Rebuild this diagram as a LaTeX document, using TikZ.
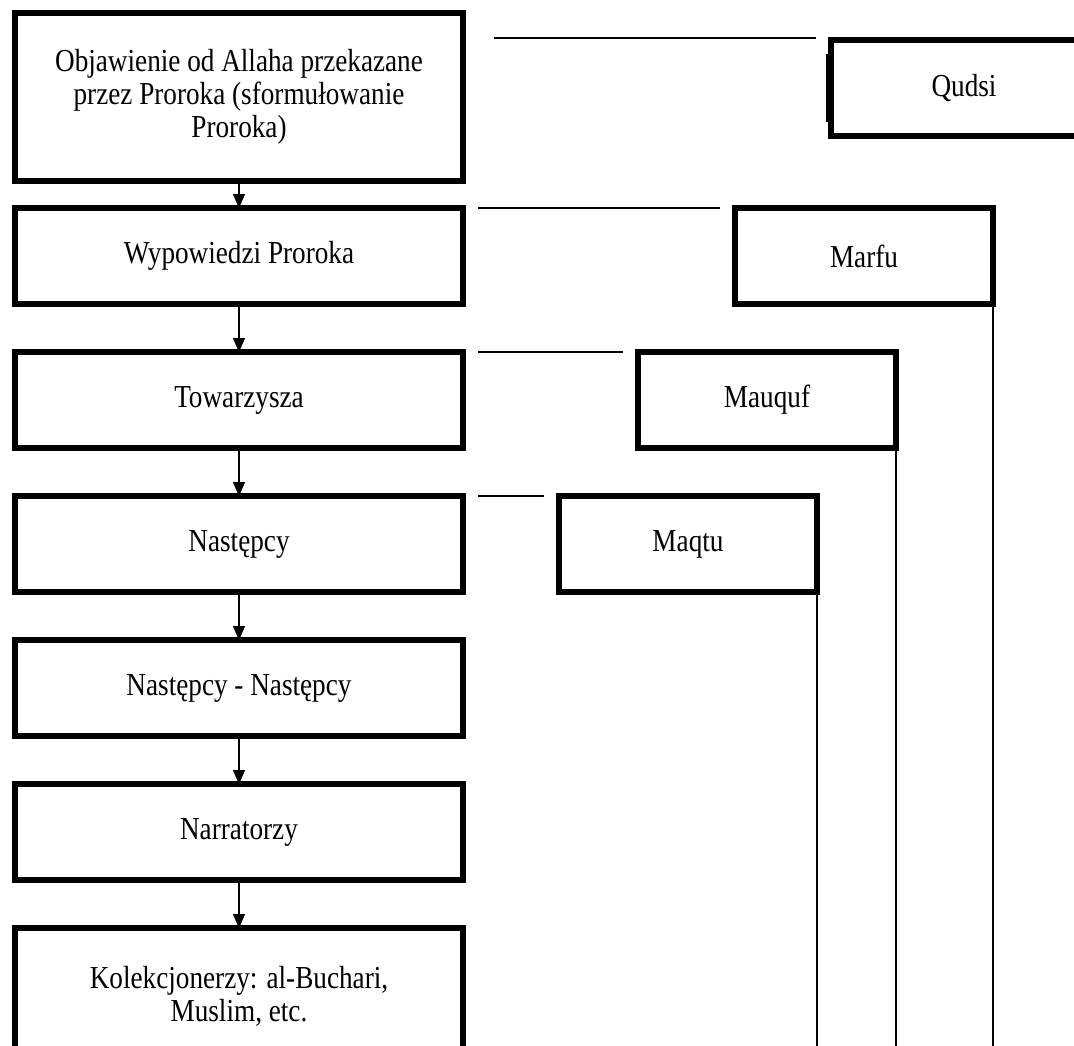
\documentclass[tikz,border=0pt]{standalone}
\usepackage{fontspec}
\setmainfont[FakeStretch=0.85]{Liberation Serif}
\usetikzlibrary{arrows.meta,calc}
\tikzset{
  chainbox/.style={draw, line width=6pt, outer sep=0pt, inner sep=0pt,
    minimum width=448pt, minimum height=96pt, align=center,
    font=\fontsize{32}{33}\selectfont},
  sidebox/.style={chainbox, minimum width=258pt},
  link/.style={line width=1.3pt, -{Triangle[width=12pt,length=14pt]}},
  tie/.style={line width=1.3pt}
}
\begin{document}
\begin{tikzpicture}[x=1pt,y=-1pt]
  \useasboundingbox (0,0) rectangle (1074,1046);
  \clip (0,0) rectangle (1074,1046);
  \coordinate (bottom) at (0,1046);
  % left chain
  \node[chainbox, minimum height=168pt] (obj) at (239,97)
    {Objawienie od Allaha przekazane\\przez Proroka (sformułowanie\\Proroka)};
  \foreach \name/\y/\txt in {wyp/256/Wypowiedzi Proroka, tow/400/Towarzysza,
      nast/544/Następcy, nastn/688/Następcy - Następcy, narr/832/Narratorzy}{
    \node[chainbox] (\name) at (239,\y) {\txt};
  }
  \node[chainbox, minimum height=136pt] (kol) at (239,996)
    {Kolekcjonerzy: al-Buchari,\\Muslim, etc.};
  \foreach \a/\b in {obj/wyp, wyp/tow, tow/nast, nast/nastn, nastn/narr, narr/kol}
    \draw[link] (\a.south) -- (\b.north);
  % kinds of hadith
  \node[sidebox, minimum width=266pt] (qudsi) at (964,88) {Qudsi};
  \node[sidebox] (marfu) at (864,256) {Marfu};
  \node[sidebox] (mauquf) at (767,400) {Mauquf};
  \node[sidebox] (maqtu) at (688,544) {Maqtu};
  \fill ([xshift=-5.5pt]qudsi.west) ++(0,-34) rectangle ++(3,68);
  \draw[tie] ($(obj.east |- qudsi.north)+(31,-2)$) -- ($(qudsi.north west)+(-15,-2)$);
  \foreach \a/\b in {wyp/marfu, tow/mauquf, nast/maqtu}{
    \draw[tie] ($(\a.east |- \b.north)+(15,0)$) -- ($(\b.north west)+(-15,0)$);
    \draw[tie] (\b.south east) -- (\b.south east |- bottom);
  }
\end{tikzpicture}
\end{document}
